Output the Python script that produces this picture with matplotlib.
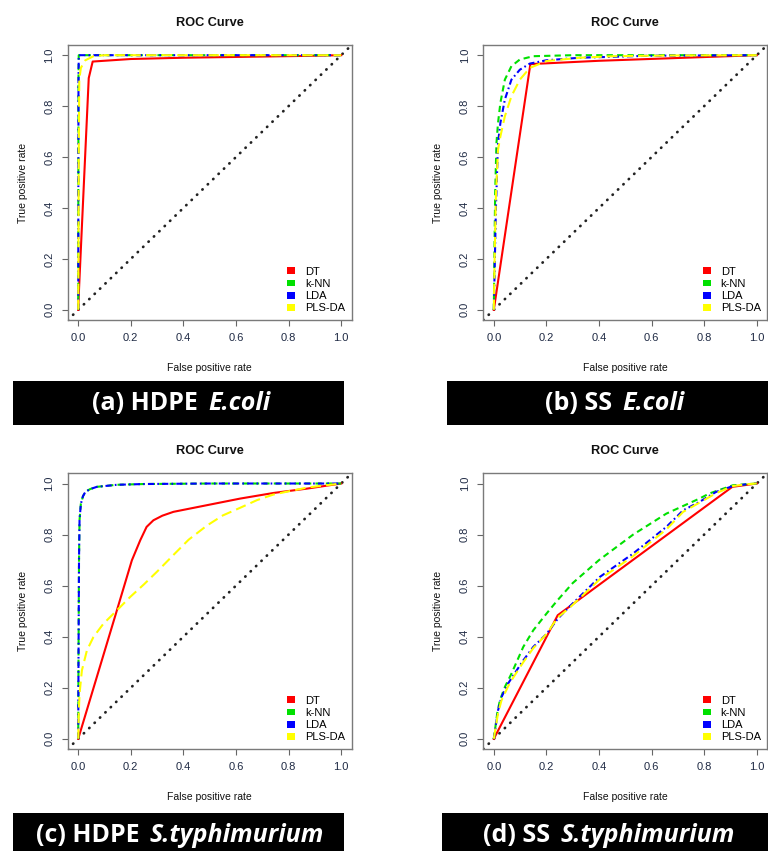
import numpy as np
import matplotlib
matplotlib.use("Agg")
from matplotlib import pyplot as plt
from matplotlib.patches import Patch, Rectangle
import matplotlib.font_manager as fm

plt.rcParams['font.family'] = ['Liberation Sans', 'DejaVu Sans']

# ---- data ----
methods = ["DT", "k-NN", "LDA", "PLS-DA"]
panel_labels = [("(a) HDPE", "E.coli"), ("(b) SS", "E.coli"),
                ("(c) HDPE", "S.typhimurium"), ("(d) SS", "S.typhimurium")]
ticks = [0.0, 0.2, 0.4, 0.6, 0.8, 1.0]
tick_labels = ["0.0", "0.2", "0.4", "0.6", "0.8", "1.0"]

# (a) HDPE E.coli
fpr_a_dt = [0, 0.003, 0.04, 0.055, 0.2, 0.4, 0.85, 1.0]
tpr_a_dt = [0, 0.08, 0.91, 0.975, 0.985, 0.99, 0.997, 1.0]
fpr_a_knn = [0, 0.001, 0.002, 1.0]
tpr_a_knn = [0, 0.9, 1.0, 1.0]
fpr_a_lda = [0, 0.001, 0.002, 1.0]
tpr_a_lda = [0, 0.9, 1.0, 1.0]
fpr_a_pls = [0, 0.002, 0.004, 0.01, 0.027, 0.058, 0.1, 1.0]
tpr_a_pls = [0, 0.6, 0.904, 0.95, 0.98, 0.996, 1.0, 1.0]

# (b) SS E.coli
fpr_b_dt = [0, 0.139, 0.4, 1.0]
tpr_b_dt = [0, 0.965, 0.978, 1.0]
fpr_b_knn = [0, 0.002, 0.005, 0.01, 0.016, 0.025, 0.042, 0.067, 0.099, 0.15, 0.3, 1.0]
tpr_b_knn = [0, 0.2, 0.45, 0.655, 0.734, 0.813, 0.904, 0.957, 0.983, 0.996, 1.0, 1.0]
fpr_b_lda = [0, 0.003, 0.008, 0.016, 0.025, 0.042, 0.067, 0.099, 0.137, 0.2, 0.327, 0.6, 1.0]
tpr_b_lda = [0, 0.15, 0.4, 0.655, 0.734, 0.826, 0.904, 0.943, 0.967, 0.98, 0.99, 0.998, 1.0]
fpr_b_pls = [0, 0.003, 0.008, 0.016, 0.025, 0.042, 0.067, 0.099, 0.137, 0.2, 0.327, 0.454, 0.7, 1.0]
tpr_b_pls = [0, 0.2, 0.45, 0.629, 0.681, 0.76, 0.839, 0.904, 0.95, 0.977, 0.99, 0.996, 0.999, 1.0]

# (c) HDPE S.typhimurium
fpr_c_dt = [0, 0.147, 0.204, 0.236, 0.26, 0.286, 0.32, 0.362, 0.489, 0.616, 0.743, 0.87, 1.0]
tpr_c_dt = [0, 0.503, 0.699, 0.778, 0.83, 0.856, 0.874, 0.889, 0.915, 0.941, 0.963, 0.98, 1.0]
fpr_c_knn = [0, 0.001, 0.003, 0.005, 0.01, 0.018, 0.027, 0.045, 0.071, 0.1, 0.147, 0.25, 0.5, 1.0]
tpr_c_knn = [0, 0.3, 0.7, 0.856, 0.92, 0.95, 0.967, 0.978, 0.987, 0.99, 0.995, 0.998, 1.0, 1.0]
fpr_c_lda = [0, 0.001, 0.003, 0.005, 0.01, 0.018, 0.027, 0.045, 0.071, 0.1, 0.147, 0.25, 0.5, 1.0]
tpr_c_lda = [0, 0.3, 0.7, 0.856, 0.92, 0.95, 0.967, 0.978, 0.987, 0.99, 0.995, 0.998, 1.0, 1.0]
fpr_c_pls = [0, 0.002, 0.005, 0.014, 0.033, 0.058, 0.096, 0.147, 0.198, 0.25, 0.3,
             0.362, 0.42, 0.489, 0.55, 0.616, 0.68, 0.743, 0.78, 0.87, 0.94, 1.0]
tpr_c_pls = [0, 0.10, 0.176, 0.268, 0.346, 0.399, 0.451, 0.503, 0.556, 0.605, 0.655,
             0.72, 0.78, 0.835, 0.875, 0.905, 0.935, 0.957, 0.965, 0.984, 0.993, 1.0]

# (d) SS S.typhimurium
fpr_d_dt = [0, 0.243, 0.907, 1.0]
tpr_d_dt = [0, 0.484, 0.987, 1.0]
fpr_d_knn = [0, 0.013, 0.023, 0.042, 0.067, 0.112, 0.15, 0.2, 0.24, 0.3, 0.4,
             0.53, 0.656, 0.782, 0.82, 0.909, 0.96, 1.0]
tpr_d_knn = [0, 0.10, 0.15, 0.203, 0.255, 0.36, 0.425, 0.49, 0.54, 0.61, 0.70,
             0.80, 0.882, 0.941, 0.961, 0.993, 0.997, 1.0]
fpr_d_lda = [0, 0.016, 0.029, 0.054, 0.074, 0.112, 0.15, 0.2, 0.243, 0.29, 0.403,
             0.529, 0.656, 0.72, 0.782, 0.845, 0.909, 0.96, 1.0]
tpr_d_lda = [0, 0.111, 0.163, 0.216, 0.248, 0.307, 0.36, 0.41, 0.47, 0.52, 0.634,
             0.725, 0.83, 0.895, 0.928, 0.967, 0.99, 0.997, 1.0]
fpr_d_pls = [0, 0.016, 0.029, 0.054, 0.074, 0.112, 0.15, 0.2, 0.243, 0.29, 0.403,
             0.529, 0.656, 0.72, 0.782, 0.845, 0.909, 0.96, 1.0]
tpr_d_pls = [0, 0.10, 0.15, 0.205, 0.24, 0.30, 0.355, 0.41, 0.475, 0.515, 0.625,
             0.715, 0.82, 0.889, 0.925, 0.962, 0.99, 0.997, 1.0]

curves = [
    [(fpr_a_dt, tpr_a_dt), (fpr_a_knn, tpr_a_knn), (fpr_a_lda, tpr_a_lda), (fpr_a_pls, tpr_a_pls)],
    [(fpr_b_dt, tpr_b_dt), (fpr_b_knn, tpr_b_knn), (fpr_b_lda, tpr_b_lda), (fpr_b_pls, tpr_b_pls)],
    [(fpr_c_dt, tpr_c_dt), (fpr_c_knn, tpr_c_knn), (fpr_c_lda, tpr_c_lda), (fpr_c_pls, tpr_c_pls)],
    [(fpr_d_dt, tpr_d_dt), (fpr_d_knn, tpr_d_knn), (fpr_d_lda, tpr_d_lda), (fpr_d_pls, tpr_d_pls)],
]

# ---- styles ----
colors = ["#ff0000", "#00e000", "#0000ff", "#ffff00"]
styles = ["-", (0, (3, 2)), (0, (3, 1.5, 0.8, 1.5)), (0, (5, 2.5))]
W, H = 768, 851

# axes boxes in pixels: (left, top, right, bottom)
boxes = [(67.7, 45, 351.7, 320), (483.3, 45, 767.3, 320),
         (67.7, 473.3, 351.7, 749), (483.3, 473.3, 767.3, 749)]
# black caption bars in pixels: (left, top, right, bottom), text centre x, centre y
bars = [((13, 381, 344, 425), 181, 404), ((447, 381, 770, 425), 615, 404),
        ((13, 813, 344, 853), 180, 835), ((442, 813, 770, 853), 609, 835)]


def as_weight(w):
    if isinstance(w, str):
        return fm.weight_dict.get(w, 400)
    return w


# pick a family that has both bold and bold italic faces
def caption_family():
    for fam in ['Open Sans', 'Noto Sans', 'Lato', 'Roboto', 'Liberation Sans', 'DejaVu Sans']:
        faces = [f for f in fm.fontManager.ttflist if f.name == fam]
        bold = any(as_weight(f.weight) >= 600 and f.style == 'normal' for f in faces)
        bold_it = any(as_weight(f.weight) >= 600 and f.style in ('italic', 'oblique') for f in faces)
        if bold and bold_it:
            return fam
    return 'DejaVu Sans'


cap_fam = caption_family()


def fig_rect(l, t, r, b):
    return [l / W, 1 - b / H, (r - l) / W, (b - t) / H]


fig = plt.figure(figsize=(W / 100, H / 100), dpi=100)

captions = []
for i in range(4):
    ax = fig.add_axes(fig_rect(*boxes[i]))
    ax.axline((0, 0), slope=1, color="#222222", lw=2.0, ls=(0, (0.1, 2.6)),
              dash_capstyle="round", zorder=1)
    for j in range(4):
        x, y = curves[i][j]
        ax.plot(x, y, color=colors[j], ls=styles[j], lw=1.5, zorder=2 + j)
    ax.set_xlim(-0.04, 1.04)
    ax.set_ylim(-0.04, 1.04)
    ax.set_xticks(ticks)
    ax.set_xticklabels(tick_labels)
    ax.set_yticks(ticks)
    ax.set_yticklabels(tick_labels, rotation=90, va="center")
    ax.tick_params(colors="#666666", labelcolor="#1f2a44", labelsize=8,
                   length=4.5, width=0.8, pad=5)
    for s in ax.spines.values():
        s.set_color("#7a7a7a")
        s.set_linewidth(1.0)
    ax.set_title("ROC Curve", fontsize=9.2, fontweight="bold", pad=14, color="#111111")
    ax.set_xlabel("False positive rate", fontsize=7.5, labelpad=14, color="#111111")
    ax.set_ylabel("True positive rate", fontsize=7.5, labelpad=12, color="#111111")
    handles = [Patch(facecolor=c, edgecolor="none") for c in colors]
    ax.legend(handles, methods, loc="lower right", frameon=False, fontsize=8,
              handlelength=0.7, handleheight=0.55, handletextpad=0.9,
              labelspacing=0.2, borderpad=0.4, borderaxespad=0.2)

    (l, t, r, b), cx, cy = bars[i]
    fig.add_artist(Rectangle((l / W, 1 - b / H), (r - l) / W, (b - t) / H,
                             transform=fig.transFigure, facecolor="black",
                             edgecolor="none", zorder=1))
    t1 = fig.text(0, 1 - cy / H, panel_labels[i][0], color="white",
                  fontsize=18, fontweight="bold", family=cap_fam,
                  ha="left", va="center", zorder=5)
    t2 = fig.text(0, 1 - cy / H, panel_labels[i][1], color="white",
                  fontsize=18, fontweight="bold", fontstyle="italic", family=cap_fam,
                  ha="left", va="center", zorder=5)
    captions.append((t1, t2, cx))

# centre each two-part caption on its bar
renderer = fig.canvas.get_renderer()
gap = 10
for t1, t2, cx in captions:
    w1 = t1.get_window_extent(renderer).width
    w2 = t2.get_window_extent(renderer).width
    x0 = cx - (w1 + gap + w2) / 2
    t1.set_x(x0 / W)
    t2.set_x((x0 + w1 + gap) / W)

fig.savefig("out.png", dpi=100)
